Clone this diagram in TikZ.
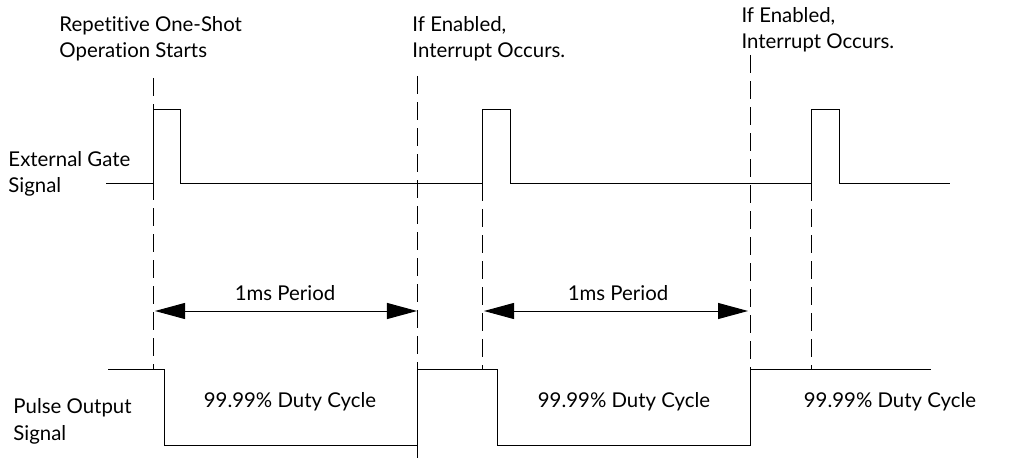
\documentclass[tikz,border=0pt]{standalone}
\usepackage{fontspec}
\setmainfont{Lato}[Ligatures=NoCommon]
\usepackage{tikz}
\usetikzlibrary{arrows.meta}

\begin{document}
\begin{tikzpicture}[x=0.025cm,y=-0.025cm,line width=0.7pt,
    lbl/.style={align=left,anchor=base west,inner sep=0,font=\fontsize{14.5}{18.5}\selectfont},
    mid/.style={anchor=base,inner sep=0,font=\fontsize{14.5}{18.5}\selectfont},
    cut/.style={dash pattern=on 12.8pt off 5.7pt},
    span/.style={{Triangle[length=0.75cm,width=0.4cm]}-{Triangle[length=0.75cm,width=0.4cm]}}]
    \useasboundingbox (0,0) rectangle (1024,465);
    % labels
    \node[lbl] (start) at (59,58) {Repetitive One-Shot\\Operation Starts};
    \node[lbl] (irqa) at (412,58) {If Enabled,\\Interrupt Occurs.};
    \node[lbl] (irqb) at (741,49) {If Enabled,\\Interrupt Occurs.};
    \node[lbl] (gate) at (8,193) {External Gate\\Signal};
    \node[lbl] (pulse) at (13,440) {Pulse Output\\Signal};
    \node[mid] (pera) at (285,300) {1ms Period};
    \node[mid] (perb) at (618,300) {1ms Period};
    \node[mid] (duta) at (290,407) {99.99\% Duty Cycle};
    \node[mid] (dutb) at (624,407) {99.99\% Duty Cycle};
    \node[mid] (dutc) at (890,407) {99.99\% Duty Cycle};
    % dashed markers
    \coordinate (t1) at (153,78);  \coordinate (b1) at (153,369);
    \coordinate (t2) at (417,76);  \coordinate (b2) at (417,465);
    \coordinate (t3) at (482,183); \coordinate (b3) at (482,369);
    \coordinate (t4) at (750,55);  \coordinate (b4) at (750,369);
    \coordinate (t5) at (811,183); \coordinate (b5) at (811,369);
    \draw[cut] (t1) to (b1);
    \draw[cut] (t2) to (b2);
    \draw[cut] (t3) to (b3);
    \draw[cut] (t4) to (b4);
    \draw[cut] (t5) to (b5);
    % periods
    \coordinate (pa1) at (155,311); \coordinate (pa2) at (417,311);
    \coordinate (pb1) at (484,311); \coordinate (pb2) at (748,311);
    \draw[span] (pa1) to (pa2);
    \draw[span] (pb1) to (pb2);
    % waveforms
    \draw (106,183) -- (153,183) -- (153,109) -- (180,109) -- (180,183) -- (482,183) -- (482,109)
        -- (510,109) -- (510,183) -- (811,183) -- (811,109) -- (839,109) -- (839,183) -- (950,183);
    \draw (108,369) -- (164,369) -- (164,445) -- (417,445) -- (417,369) -- (497,369) -- (497,445)
        -- (750,445) -- (750,369) -- (931,369);
\end{tikzpicture}
\end{document}
